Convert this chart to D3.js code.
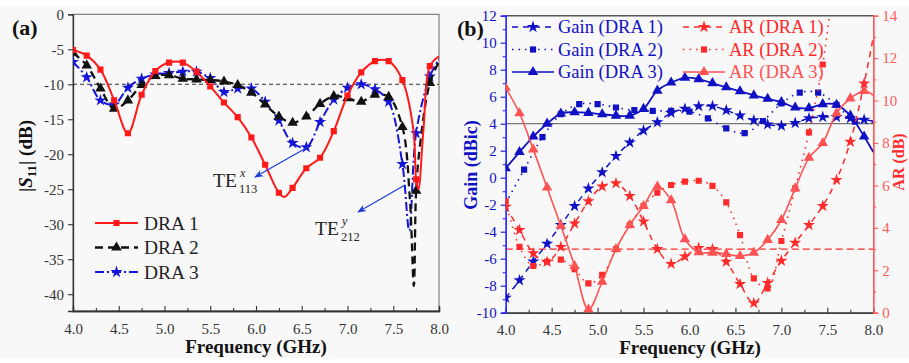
<html>
  <meta charset="utf-8">
  <head>
  <style>
    body { margin: 0; background: #fff; }
    svg { display: block; }
    text { font-family: "Liberation Serif", "Times New Roman", serif; }
  </style>
  </head>
  <body>
    <div id="fig"></div>
    <script src="https://d3js.org/d3.v7.min.js"></script>
    <script>
    'use strict';

    // ---- data ----
    // (a) |S11| in dB
    var s11Dra1 = [[4.00,-5.1],[4.15,-5.9],[4.30,-7.9],[4.45,-12.3],[4.60,-17.0],[4.75,-11.5],[4.90,-8.1],[5.05,-6.9],[5.20,-6.9],[5.35,-8.2],[5.50,-10.3],[5.65,-12.6],[5.80,-14.7],[5.95,-17.6],[6.10,-21.5],[6.25,-25.5],[6.31,-26.1],[6.40,-24.8],[6.55,-22.0],[6.70,-20.5],[6.85,-16.7],[7.00,-11.6],[7.15,-8.3],[7.30,-6.7],[7.45,-6.7],[7.60,-9.4],[7.72,-16.5],[7.75,-23.6],[7.775,-25.0],[7.83,-16.5],[7.90,-7.4],[8.00,-6.0]];
    var s11Dra2 = [[4.00,-5.5],[4.15,-7.3],[4.30,-10.6],[4.45,-13.5],[4.60,-12.3],[4.75,-10.1],[4.90,-8.8],[5.05,-8.7],[5.20,-9.2],[5.35,-9.3],[5.50,-9.4],[5.65,-9.6],[5.80,-10.1],[5.95,-11.2],[6.10,-12.9],[6.25,-14.6],[6.40,-15.5],[6.55,-14.6],[6.70,-12.8],[6.85,-11.7],[7.00,-12.0],[7.15,-12.5],[7.30,-11.5],[7.45,-11.8],[7.60,-16.1],[7.68,-26.0],[7.725,-38.8],[7.75,-25.2],[7.79,-19.0],[7.90,-9.8],[8.00,-6.8]];
    var s11Dra3 = [[4.00,-6.8],[4.15,-9.0],[4.30,-12.3],[4.45,-12.9],[4.60,-10.5],[4.75,-9.2],[4.90,-8.6],[5.05,-8.4],[5.20,-8.2],[5.35,-8.2],[5.50,-9.1],[5.65,-11.1],[5.80,-10.6],[5.95,-10.6],[6.10,-12.5],[6.25,-15.2],[6.40,-18.4],[6.55,-19.0],[6.70,-15.4],[6.85,-12.2],[7.00,-10.5],[7.15,-10.0],[7.30,-10.7],[7.45,-12.5],[7.60,-21.4],[7.675,-30.9],[7.75,-17.0],[7.90,-8.9],[8.00,-6.4]];

    // (b) gain in dBic
    var gainDra1 = [[4.00,-8.9],[4.15,-7.6],[4.30,-6.2],[4.45,-4.9],[4.60,-3.5],[4.75,-2.1],[4.90,-0.8],[5.05,0.4],[5.20,1.6],[5.35,2.6],[5.50,3.5],[5.65,4.1],[5.80,4.8],[5.95,5.1],[6.10,5.3],[6.25,5.3],[6.40,5.0],[6.55,4.6],[6.70,4.25],[6.85,3.95],[7.00,3.85],[7.15,4.05],[7.30,4.4],[7.45,4.5],[7.60,4.5],[7.75,4.4],[7.90,4.3],[8.00,4.2]];
    var gainDra2 = [[4.00,-1.9],[4.20,0.6],[4.40,3.0],[4.60,4.7],[4.80,5.45],[5.00,5.45],[5.20,5.2],[5.40,5.0],[5.60,4.95],[5.80,4.95],[6.00,4.9],[6.20,4.4],[6.40,3.65],[6.60,3.3],[6.80,4.2],[7.00,5.5],[7.20,6.3],[7.40,6.3],[7.60,5.4],[7.80,4.15],[8.00,4.1]];
    var gainDra3 = [[4.00,0.7],[4.15,1.9],[4.30,3.05],[4.45,4.0],[4.60,4.75],[4.75,4.85],[4.90,4.8],[5.05,4.7],[5.20,4.6],[5.35,4.6],[5.50,5.1],[5.65,6.45],[5.80,7.05],[5.95,7.4],[6.10,7.3],[6.25,7.0],[6.40,6.7],[6.55,6.4],[6.70,6.1],[6.85,5.85],[7.00,5.6],[7.15,5.2],[7.30,5.15],[7.45,5.45],[7.60,5.4],[7.75,4.6],[7.90,3.05],[8.00,1.9]];

    // (b) axial ratio in dB
    var arDra1 = [[4.00,5.0],[4.15,3.9],[4.30,2.8],[4.45,2.4],[4.60,3.1],[4.75,4.2],[4.90,5.25],[5.05,5.95],[5.20,6.1],[5.35,5.5],[5.50,4.3],[5.65,3.0],[5.80,2.3],[5.95,2.65],[6.10,3.05],[6.25,3.0],[6.40,2.4],[6.55,1.35],[6.70,0.45],[6.85,1.4],[7.00,2.45],[7.15,3.3],[7.30,4.13],[7.45,5.03],[7.60,6.26],[7.75,8.06],[7.90,10.8],[8.00,13.0]];
    var arDra2 = [[4.00,5.25],[4.15,3.1],[4.30,2.2],[4.45,2.4],[4.60,2.5],[4.75,2.05],[4.90,1.38],[5.05,1.78],[5.20,3.0],[5.35,4.13],[5.50,5.03],[5.65,5.66],[5.80,6.02],[5.95,6.18],[6.10,6.22],[6.25,5.98],[6.40,5.2],[6.55,3.66],[6.70,1.62],[6.85,1.15],[7.00,3.38],[7.15,5.86],[7.30,8.5],[7.45,11.7],[7.53,14.3]];
    var arDra3 = [[4.00,10.6],[4.15,9.4],[4.30,7.7],[4.45,5.9],[4.60,4.1],[4.75,2.2],[4.90,0.15],[5.05,1.46],[5.20,3.0],[5.35,4.13],[5.50,5.03],[5.65,5.95],[5.80,5.3],[5.95,3.46],[6.10,2.85],[6.25,2.83],[6.40,2.77],[6.55,2.67],[6.70,2.83],[6.85,3.43],[7.00,4.37],[7.15,5.86],[7.30,7.3],[7.45,8.0],[7.60,9.4],[7.75,10.1],[7.90,10.45],[8.00,10.25]];

    // frequencies that carry a marker
    var mark15 = [4.00,4.15,4.30,4.45,4.60,4.75,4.90,5.05,5.20,5.35,5.50,5.65,5.80,5.95,6.10,6.25,6.40,6.55,6.70,6.85,7.00,7.15,7.30,7.45,7.60,7.75,7.90];
    var mark20 = [4.20,4.40,4.60,4.80,5.00,5.20,5.40,5.60,5.80,6.00,6.20,6.40,6.60,6.80,7.00,7.20,7.40,7.60,7.80];

    var freqTicks = [4.0,4.5,5.0,5.5,6.0,6.5,7.0,7.5,8.0];
    var freqMinor = [4.25,4.75,5.25,5.75,6.25,6.75,7.25,7.75];
    var s11Ticks = [0,-5,-10,-15,-20,-25,-30,-35,-40];
    var gainTicks = [-10,-8,-6,-4,-2,0,2,4,6,8,10,12];
    var arTicks = [0,2,4,6,8,10,12,14];

    var RED = '#ff1a1a', BLK = '#111', BLUE = '#1515d8';
    var GBLUE = '#1010c4', AR_RED = '#ff2a2a', AR_RED3 = '#ff5252', AXRED = '#ff5a5a';

    var svg = d3.select('#fig').append('svg').attr('width', 909).attr('height', 363);
    svg.append('rect').attr('x', 0).attr('y', 6).attr('width', 909).attr('height', 352).attr('fill', '#f8f8f8');

    var defs = svg.append('defs');
    defs.append('marker').attr('id', 'arr').attr('viewBox', '0 0 10 10')
      .attr('refX', 9).attr('refY', 5).attr('markerWidth', 9).attr('markerHeight', 9)
      .attr('orient', 'auto').attr('markerUnits', 'userSpaceOnUse')
      .append('path').attr('d', 'M0,1 L10,5 L0,9 L3,5 Z').attr('fill', '#1a3cd8');

    function sym(type, size) {
      return d3.symbol().type(type).size(size)();
    }
    var SHAPES = {
      square: function() { return sym(d3.symbolSquare, 38); },
      tri: function() { return sym(d3.symbolTriangle, 48); },
      star: function() { return sym(d3.symbolStar, 46); }
    };

    function drawSeries(g, data, x, y, st) {
      var line = d3.line().x(d => x(d[0])).y(d => y(d[1])).curve(d3.curveCatmullRom.alpha(0.5));
      g.append('path').datum(data).attr('d', line)
        .attr('fill', 'none').attr('stroke', st.color).attr('stroke-width', st.width)
        .attr('stroke-dasharray', st.dash || null);
      var pts = data.filter(d => st.marks.some(m => Math.abs(m - d[0]) < 1e-6));
      g.selectAll(null).data(pts).enter().append('path')
        .attr('transform', d => 'translate(' + x(d[0]) + ',' + y(d[1]) + ')')
        .attr('d', SHAPES[st.shape]()).attr('fill', st.color);
    }

    function styleAxis(g, color) {
      g.select('.domain').attr('stroke', color).attr('stroke-width', 1.3);
      g.selectAll('.tick line').attr('stroke', color).attr('stroke-width', 1.1);
      g.selectAll('.tick text').attr('fill', color).attr('font-size', 15)
        .attr('font-family', '"Liberation Serif", "Times New Roman", serif');
    }

    // =============== panel (a) ===============
    var xA = d3.scaleLinear().domain([4, 8]).range([73, 439]);
    var yA = d3.scaleLinear().domain([-42.4, 0]).range([311, 14.3]);

    defs.append('clipPath').attr('id', 'clipA').append('rect')
      .attr('x', 73).attr('y', 14.3).attr('width', 366).attr('height', 296.7);

    var gA = svg.append('g');
    gA.append('rect').attr('x', 73).attr('y', 14.3).attr('width', 366).attr('height', 296.7)
      .attr('fill', 'none').attr('stroke', '#666').attr('stroke-width', 1);

    gA.append('line').attr('x1', xA(4)).attr('x2', xA(8)).attr('y1', yA(-10)).attr('y2', yA(-10))
      .attr('stroke', '#333').attr('stroke-width', 1).attr('stroke-dasharray', '4,3');

    var axA1 = gA.append('g').attr('transform', 'translate(0,311)')
      .call(d3.axisBottom(xA).tickValues(freqTicks).tickSize(-5).tickPadding(12).tickFormat(d3.format('.1f')));
    styleAxis(axA1, '#333');
    var axA1m = gA.append('g').attr('transform', 'translate(0,311)')
      .call(d3.axisBottom(xA).tickValues(freqMinor).tickSize(-3).tickFormat(''));
    styleAxis(axA1m, '#333');
    var axA2 = gA.append('g').attr('transform', 'translate(73,0)')
      .call(d3.axisLeft(yA).tickValues(s11Ticks).tickSize(5).tickPadding(4).tickFormat(d => String(d)));
    styleAxis(axA2, '#333');

    var plotA = gA.append('g').attr('clip-path', 'url(#clipA)');
    drawSeries(plotA, s11Dra3, xA, yA, {color: BLUE, width: 2, dash: '9,3,2,3', marks: mark15, shape: 'star'});
    drawSeries(plotA, s11Dra2, xA, yA, {color: BLK, width: 2.3, dash: '8,5', marks: mark15, shape: 'tri'});
    drawSeries(plotA, s11Dra1, xA, yA, {color: RED, width: 2, marks: mark15, shape: 'square'});

    // legend (a)
    var legA = [
      {name: 'DRA 1', color: RED, dash: null, w: 2, shape: 'square'},
      {name: 'DRA 2', color: BLK, dash: '8,5', w: 2.3, shape: 'tri'},
      {name: 'DRA 3', color: BLUE, dash: '9,3,2,3', w: 2, shape: 'star'}
    ];
    legA.forEach(function(d, i) {
      var cy = 223 + i * 24.5;
      gA.append('line').attr('x1', 95).attr('x2', 138).attr('y1', cy).attr('y2', cy)
        .attr('stroke', d.color).attr('stroke-width', d.w).attr('stroke-dasharray', d.dash);
      gA.append('path').attr('transform', 'translate(116.5,' + cy + ')').attr('d', SHAPES[d.shape]()).attr('fill', d.color);
      gA.append('text').attr('x', 144).attr('y', cy + 6.5).attr('font-size', 19.5).attr('fill', '#222').text(d.name);
    });

    // mode annotations
    gA.append('line').attr('x1', 308).attr('y1', 147).attr('x2', 255).attr('y2', 177)
      .attr('stroke', '#1a3cd8').attr('stroke-width', 1.2).attr('marker-end', 'url(#arr)');
    gA.append('line').attr('x1', 405).attr('y1', 185).attr('x2', 358).attr('y2', 212)
      .attr('stroke', '#1a3cd8').attr('stroke-width', 1.2).attr('marker-end', 'url(#arr)');

    function modeLabel(x, y, sup, sub) {
      var t = gA.append('g').attr('fill', '#222');
      t.append('text').attr('x', x).attr('y', y).attr('font-size', 19.5).text('TE');
      t.append('text').attr('x', x + 27).attr('y', y - 10).attr('font-size', 12).attr('font-style', 'italic').text(sup);
      t.append('text').attr('x', x + 26).attr('y', y + 6).attr('font-size', 12.5).text(sub);
    }
    modeLabel(213, 187, 'x', '113');
    modeLabel(315, 235, 'y', '212');

    // titles (a)
    svg.append('text').attr('x', 12).attr('y', 35).attr('font-size', 22).attr('font-weight', 'bold').attr('fill', '#111').text('(a)');
    svg.append('text').attr('x', 256).attr('y', 353).attr('text-anchor', 'middle')
      .attr('font-size', 19).attr('font-weight', 'bold').attr('fill', '#111').text('Frequency (GHz)');
    var ylA = svg.append('text').attr('transform', 'translate(32,156) rotate(-90)').attr('text-anchor', 'middle')
      .attr('font-size', 19).attr('font-weight', 'bold').attr('fill', '#111');
    ylA.append('tspan').text('|');
    ylA.append('tspan').attr('font-style', 'italic').text('S');
    ylA.append('tspan').attr('font-size', 13).attr('dy', 4).text('11');
    ylA.append('tspan').attr('dy', -4).text('| (dB)');

    // =============== panel (b) ===============
    var xB = d3.scaleLinear().domain([4, 8]).range([505.7, 873.3]);
    var yG = d3.scaleLinear().domain([-10, 12]).range([312.7, 15.7]);
    var yR = d3.scaleLinear().domain([0, 14]).range([312.7, 15.7]);

    defs.append('clipPath').attr('id', 'clipB').append('rect')
      .attr('x', 505.7).attr('y', 15.7).attr('width', 367.6).attr('height', 297);

    var gB = svg.append('g');
    gB.append('line').attr('x1', 505.7).attr('x2', 873.3).attr('y1', 15.7).attr('y2', 15.7)
      .attr('stroke', '#555').attr('stroke-width', 1.6);

    gB.append('line').attr('x1', xB(4)).attr('x2', xB(8)).attr('y1', yG(4)).attr('y2', yG(4))
      .attr('stroke', '#777').attr('stroke-width', 1.3);
    gB.append('line').attr('x1', xB(4)).attr('x2', xB(8)).attr('y1', yR(3)).attr('y2', yR(3))
      .attr('stroke', AR_RED).attr('stroke-width', 1.3).attr('stroke-dasharray', '7,4');

    var axB1 = gB.append('g').attr('transform', 'translate(0,312.7)')
      .call(d3.axisBottom(xB).tickValues(freqTicks).tickSize(-5).tickPadding(12).tickFormat(d3.format('.1f')));
    styleAxis(axB1, '#333');
    var axB1m = gB.append('g').attr('transform', 'translate(0,312.7)')
      .call(d3.axisBottom(xB).tickValues(freqMinor).tickSize(-3).tickFormat(''));
    styleAxis(axB1m, '#333');

    var axB2 = gB.append('g').attr('transform', 'translate(505.7,0)')
      .call(d3.axisLeft(yG).tickValues(gainTicks).tickSize(5).tickPadding(4).tickFormat(d => String(d)));
    styleAxis(axB2, GBLUE);
    axB2.select('.domain').attr('stroke', '#2a2aff');
    var axB2m = gB.append('g').attr('transform', 'translate(505.7,0)')
      .call(d3.axisLeft(yG).tickValues([-9,-7,-5,-3,-1,1,3,5,7,9,11]).tickSize(3).tickFormat(''));
    styleAxis(axB2m, '#2a2aff');

    var axB3 = gB.append('g').attr('transform', 'translate(873.3,0)')
      .call(d3.axisRight(yR).tickValues(arTicks).tickSize(5).tickPadding(4).tickFormat(d => String(d)));
    styleAxis(axB3, AXRED);
    var axB3m = gB.append('g').attr('transform', 'translate(873.3,0)')
      .call(d3.axisRight(yR).tickValues([1,3,5,7,9,11,13]).tickSize(3).tickFormat(''));
    styleAxis(axB3m, AXRED);

    var plotB = gB.append('g').attr('clip-path', 'url(#clipB)');
    drawSeries(plotB, gainDra1, xB, yG, {color: GBLUE, width: 1.5, dash: '6,5', marks: mark15, shape: 'star'});
    drawSeries(plotB, gainDra2, xB, yG, {color: GBLUE, width: 1.6, dash: '1.5,5', marks: mark20, shape: 'square'});
    drawSeries(plotB, gainDra3, xB, yG, {color: GBLUE, width: 1.8, marks: mark15, shape: 'tri'});
    drawSeries(plotB, arDra1, xB, yR, {color: AR_RED, width: 1.5, dash: '6,5', marks: mark15, shape: 'star'});
    drawSeries(plotB, arDra2, xB, yR, {color: AR_RED, width: 1.6, dash: '1.5,5', marks: mark15, shape: 'square'});
    drawSeries(plotB, arDra3, xB, yR, {color: AR_RED3, width: 1.6, marks: mark15, shape: 'tri'});

    // legend (b)
    var legB = [
      {name: 'Gain (DRA 1)', color: GBLUE, dash: '6,5', shape: 'star', x: 512},
      {name: 'Gain (DRA 2)', color: GBLUE, dash: '1.5,5', shape: 'square', x: 512},
      {name: 'Gain (DRA 3)', color: GBLUE, dash: null, shape: 'tri', x: 512},
      {name: 'AR (DRA 1)', color: AR_RED, dash: '6,5', shape: 'star', x: 683},
      {name: 'AR (DRA 2)', color: AR_RED, dash: '1.5,5', shape: 'square', x: 683},
      {name: 'AR (DRA 3)', color: AR_RED3, dash: null, shape: 'tri', x: 683}
    ];
    legB.forEach(function(d, i) {
      var cy = 27 + (i % 3) * 22.5;
      gB.append('line').attr('x1', d.x).attr('x2', d.x + 42).attr('y1', cy).attr('y2', cy)
        .attr('stroke', d.color).attr('stroke-width', 1.6).attr('stroke-dasharray', d.dash);
      gB.append('path').attr('transform', 'translate(' + (d.x + 21) + ',' + cy + ')').attr('d', SHAPES[d.shape]()).attr('fill', d.color);
      gB.append('text').attr('x', d.x + 46).attr('y', cy + 6).attr('font-size', 18.5).attr('fill', d.color).text(d.name);
    });

    // titles (b)
    svg.append('text').attr('x', 457).attr('y', 36).attr('font-size', 22).attr('font-weight', 'bold').attr('fill', '#111').text('(b)');
    svg.append('text').attr('x', 690).attr('y', 354).attr('text-anchor', 'middle')
      .attr('font-size', 19).attr('font-weight', 'bold').attr('fill', '#111').text('Frequency (GHz)');
    svg.append('text').attr('transform', 'translate(477,165) rotate(-90)').attr('text-anchor', 'middle')
      .attr('font-size', 18).attr('font-weight', 'bold').attr('fill', GBLUE).text('Gain (dBic)');
    svg.append('text').attr('transform', 'translate(904,162) rotate(-90)').attr('text-anchor', 'middle')
      .attr('font-size', 16).attr('font-weight', 'bold').attr('fill', AR_RED).text('AR (dB)');
    </script>
  </body>
</html>
